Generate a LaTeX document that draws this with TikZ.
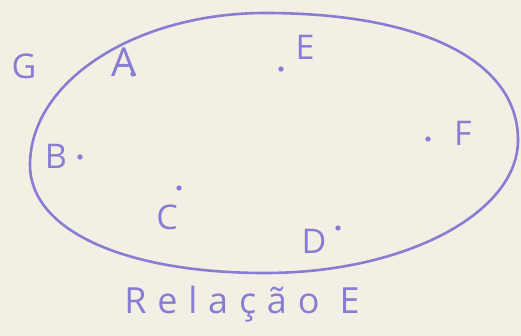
\documentclass[tikz,border=0pt]{standalone}
\usepackage{fontspec}
\setmainfont{Open Sans}
\definecolor{paper}{RGB}{244,239,229}
\definecolor{ink}{RGB}{135,125,210}
\tikzset{
  lbl/.style={text=ink, inner sep=0pt, font=\fontsize{34}{34}\selectfont},
  dotpt/.style={fill=ink, draw=none},
  setline/.style={draw=ink, line width=2.6pt, line cap=round, line join=round}
}
\begin{document}
\begin{tikzpicture}[x=1pt,y=-1pt]
\fill[paper] (0,0) rectangle (521,336);
\useasboundingbox (0,0) rectangle (521,336);
% the set G (hand-drawn ellipse)
\coordinate (l) at (30,165);
\coordinate (t) at (265,13);
\coordinate (r) at (518,140);
\coordinate (b) at (265,273);
\draw[setline] (l) .. controls (30,81) and (136,13) .. (t)
  .. controls (422,13) and (518,61) .. (r)
  .. controls (518,213) and (405,273) .. (b)
  .. controls (124,273) and (30,230) .. (l) -- cycle;
% points
\coordinate (pA) at (133,74);
\coordinate (pB) at (80,157);
\coordinate (pC) at (179,188);
\coordinate (pD) at (338,228);
\coordinate (pE) at (281,69);
\coordinate (pF) at (428,139);
\foreach \p in {pA,pB,pC,pD,pE,pF} \fill[dotpt] (\p) circle (2.7);
% labels
\node[lbl] (G) at (24,66) {G};
\node[lbl, font=\fontsize{40}{40}\selectfont] (A) at (124,62) {A};
\node[lbl] (B) at (56,156) {B};
\node[lbl] (C) at (167,217) {C};
\node[lbl] (D) at (314,241) {D};
\node[lbl] (E) at (305,47) {E};
\node[lbl] (F) at (463,133) {F};
\node[lbl, font=\fontsize{36}{36}\selectfont\addfontfeature{LetterSpace=30}] (title) at (242,304) {Relação E};
\end{tikzpicture}
\end{document}
